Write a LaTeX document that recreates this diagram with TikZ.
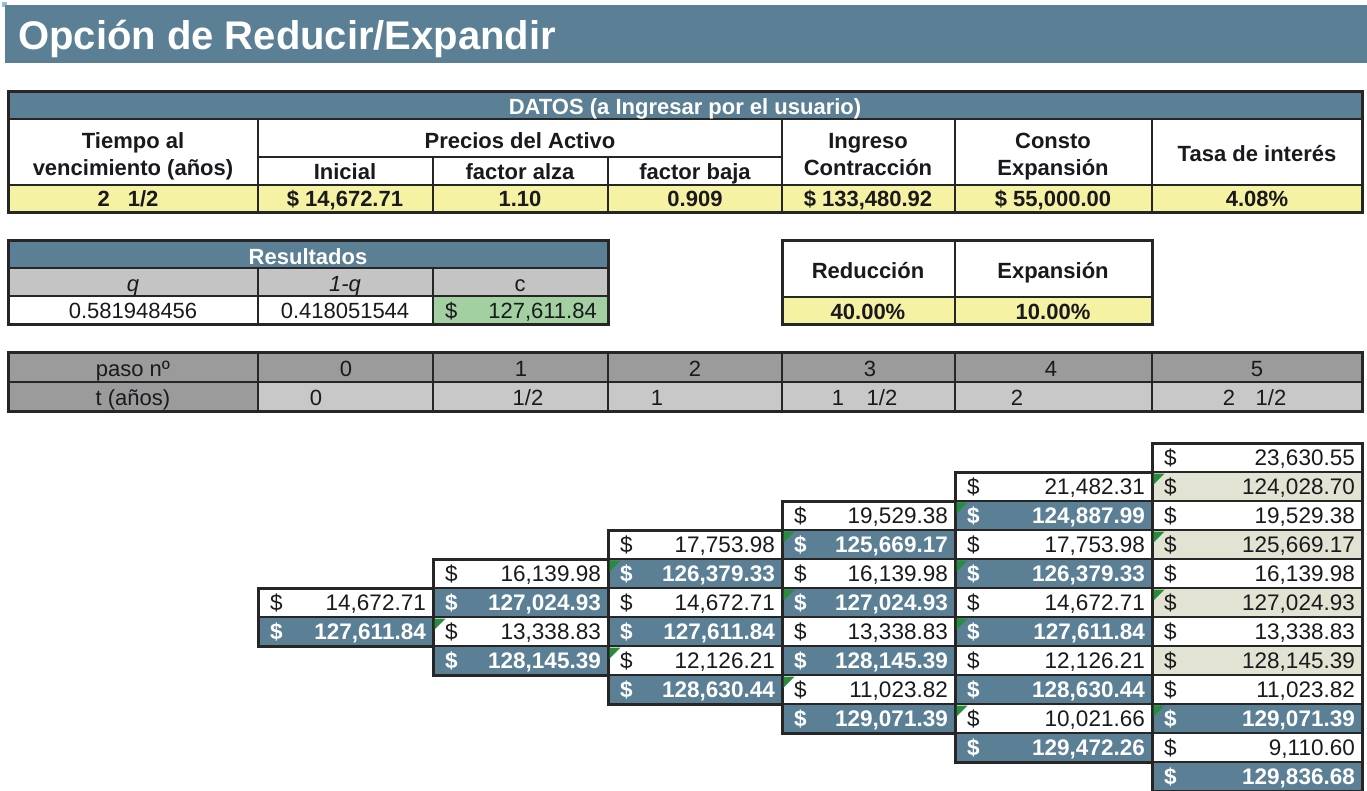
\documentclass[tikz,border=0pt]{standalone}
\usepackage{fontspec}
\setmainfont{Liberation Sans}
\definecolor{sblue}{RGB}{91,127,148}
\definecolor{ylw}{RGB}{246,242,164}
\definecolor{grn}{RGB}{163,208,160}
\definecolor{dgray}{RGB}{155,155,155}
\definecolor{lgray}{RGB}{200,200,200}
\definecolor{qgray}{RGB}{196,196,196}
\definecolor{beige}{RGB}{226,227,210}
\definecolor{bord}{RGB}{38,38,38}
\definecolor{txt}{RGB}{25,25,30}
\definecolor{tri}{RGB}{40,140,60}
\definecolor{ltblue}{RGB}{150,190,225}
\newcommand\lc[6]{% name, left, right, row, kind, value
  \fill[#5fill] (#2,{443+29*#4}) rectangle (#3,{472+29*#4});
  \draw[cellline] (#2,{443+29*#4}) rectangle (#3,{472+29*#4});
  \node[#5txt, anchor=base west] (#1d) at ({#2+12},{465.5+29*#4}) {\$};
  \node[#5txt, anchor=base east] (#1v) at ({#3-7},{465.5+29*#4}) {#6};
}
\newcommand\trimark[2]{% left, row
  \fill[tri] ({#1+1.5},{444.5+29*#2}) -- ++(11,0) -- ++(-11,11) -- cycle;
}
\begin{document}
\begin{tikzpicture}[x=1pt,y=-1pt,
  t/.style={inner sep=0pt, text=txt, font=\fontsize{22}{26}\selectfont, anchor=base},
  tb/.style={t, font=\fontsize{22}{26}\selectfont\bfseries},
  ti/.style={t, font=\fontsize{22}{26}\selectfont\itshape},
  tw/.style={tb, text=white},
  lt/.style={t, font=\fontsize{22.5}{26}\selectfont},
  lw/.style={tw, font=\fontsize{22.5}{26}\selectfont\bfseries},
  outer/.style={draw=bord, line width=3pt},
  inner/.style={draw=bord, line width=2pt},
  cellline/.style={draw=bord, line width=2.6pt},
  pfill/.style={fill=white}, bfill/.style={fill=sblue}, gfill/.style={fill=beige},
  ptxt/.style={lt}, btxt/.style={lw}, gtxt/.style={lt}]
\useasboundingbox (0,0) rectangle (1367,790);
\fill[white] (0,0) rectangle (1367,790);
% title
\fill[ltblue] (2,2) rectangle (7,7);
\fill[sblue] (5,5) rectangle (1367,63);
\node[tw, font=\fontsize{40}{48}\selectfont\bfseries, anchor=base west] (title) at (18,49) {Opción de Reducir/Expandir};
% DATOS table
\fill[sblue] (8,91) rectangle (1362,119);
\fill[white] (8,119) rectangle (1362,185);
\fill[ylw] (8,185) rectangle (1362,212);
\draw[inner] (8,119) -- (1362,119);
\draw[inner] (8,185) -- (1362,185);
\draw[inner] (258,157) -- (782,157);
\foreach \x in {258,782,955,1152} \draw[inner] (\x,119) -- (\x,212);
\foreach \x in {433,608} \draw[inner] (\x,157) -- (\x,212);
\draw[outer] (8,91) rectangle (1362,212);
\node[tw] (dh) at (685,114) {DATOS (a Ingresar por el usuario)};
\node[tb] (h1a) at (133,148) {Tiempo al};
\node[tb] (h1b) at (133,175) {vencimiento (años)};
\node[tb] (h2) at (520,148) {Precios del Activo};
\node[tb] (h2a) at (345,179) {Inicial};
\node[tb] (h2b) at (520,179) {factor alza};
\node[tb] (h2c) at (695,179) {factor baja};
\node[tb] (h3a) at (868,148) {Ingreso};
\node[tb] (h3b) at (868,175) {Contracción};
\node[tb] (h4a) at (1053,148) {Consto};
\node[tb] (h4b) at (1053,175) {Expansión};
\node[tb] (h5) at (1257,161) {Tasa de interés};
\node[tb] (v1) at (128,206) {2\hspace{18pt}1/2};
\node[tb] (v2) at (345,206) {\$ 14,672.71};
\node[tb] (v3) at (520,206) {1.10};
\node[tb] (v4) at (695,206) {0.909};
\node[tb] (v5) at (868,206) {\$ 133,480.92};
\node[tb] (v6) at (1053,206) {\$ 55,000.00};
\node[tb] (v7) at (1257,206) {4.08\%};
% Resultados
\fill[sblue] (8,240) rectangle (608,268);
\fill[qgray] (8,268) rectangle (608,296);
\fill[white] (8,296) rectangle (433,324);
\fill[grn] (433,296) rectangle (608,324);
\draw[inner] (8,268) -- (608,268);
\draw[inner] (8,296) -- (608,296);
\foreach \x in {258,433} \draw[inner] (\x,268) -- (\x,324);
\draw[outer] (8,240) rectangle (608,324);
\node[tw] (rh) at (308,264) {Resultados};
\node[ti] (rq) at (133,291) {q};
\node[ti] (rq1) at (345,291) {1-q};
\node[t] (rc) at (520,291) {c};
\node[t] (rqv) at (133,318) {0.581948456};
\node[t] (rq1v) at (345,318) {0.418051544};
\node[t, anchor=base west] (rcd) at (445,318) {\$};
\node[t, anchor=base east] (rcv) at (597,318) {127,611.84};
% Reduccion / Expansion
\fill[white] (782,240) rectangle (1152,297);
\fill[ylw] (782,297) rectangle (1152,324);
\draw[inner] (782,297) -- (1152,297);
\draw[inner] (955,240) -- (955,324);
\draw[outer] (782,240) rectangle (1152,324);
\node[tb] (red) at (868,278) {Reducción};
\node[tb] (exp) at (1053,278) {Expansión};
\node[tb] (redv) at (868,319) {40.00\%};
\node[tb] (expv) at (1053,319) {10.00\%};
% paso table
\fill[dgray] (8,352) rectangle (1362,382);
\fill[dgray] (8,382) rectangle (258,411);
\fill[lgray] (258,382) rectangle (1362,411);
\draw[inner] (8,382) -- (1362,382);
\foreach \x in {258,433,608,782,955,1152} \draw[inner] (\x,352) -- (\x,411);
\draw[outer] (8,352) rectangle (1362,411);
\node[t] (pl) at (133,376) {paso nº};
\node[t] (p0) at (346,376) {0};
\node[t] (p1) at (521,376) {1};
\node[t] (p2) at (695,376) {2};
\node[t] (p3) at (870,376) {3};
\node[t] (p4) at (1051,376) {4};
\node[t] (p5) at (1257,376) {5};
\node[t] (tl) at (133,405) {t (años)};
\node[t] (t0) at (316,405) {0};
\node[t] (t1) at (528,405) {1/2};
\node[t] (t2) at (657,405) {1};
\node[t] (t3a) at (838,405) {1};
\node[t] (t3b) at (882,405) {1/2};
\node[t] (t4) at (1017,405) {2};
\node[t] (t5a) at (1229,405) {2};
\node[t] (t5b) at (1271,405) {1/2};
% lattice column 0
\lc{a0}{258}{433}{5}{p}{14,672.71}
\lc{a1}{258}{433}{6}{b}{127,611.84}
\draw[outer] (258,588) rectangle (433,646);
% column 1
\lc{b0}{433}{608}{4}{p}{16,139.98}
\lc{b1}{433}{608}{5}{b}{127,024.93}
\lc{b2}{433}{608}{6}{p}{13,338.83}
\lc{b3}{433}{608}{7}{b}{128,145.39}
\draw[outer] (433,559) rectangle (608,675);
% column 2
\lc{c0}{608}{782}{3}{p}{17,753.98}
\lc{c1}{608}{782}{4}{b}{126,379.33}
\lc{c2}{608}{782}{5}{p}{14,672.71}
\lc{c3}{608}{782}{6}{b}{127,611.84}
\lc{c4}{608}{782}{7}{p}{12,126.21}
\lc{c5}{608}{782}{8}{b}{128,630.44}
\draw[outer] (608,530) rectangle (782,704);
% column 3
\lc{d0}{782}{955}{2}{p}{19,529.38}
\lc{d1}{782}{955}{3}{b}{125,669.17}
\lc{d2}{782}{955}{4}{p}{16,139.98}
\lc{d3}{782}{955}{5}{b}{127,024.93}
\lc{d4}{782}{955}{6}{p}{13,338.83}
\lc{d5}{782}{955}{7}{b}{128,145.39}
\lc{d6}{782}{955}{8}{p}{11,023.82}
\lc{d7}{782}{955}{9}{b}{129,071.39}
\draw[outer] (782,501) rectangle (955,733);
% column 4
\lc{e0}{955}{1152}{1}{p}{21,482.31}
\lc{e1}{955}{1152}{2}{b}{124,887.99}
\lc{e2}{955}{1152}{3}{p}{17,753.98}
\lc{e3}{955}{1152}{4}{b}{126,379.33}
\lc{e4}{955}{1152}{5}{p}{14,672.71}
\lc{e5}{955}{1152}{6}{b}{127,611.84}
\lc{e6}{955}{1152}{7}{p}{12,126.21}
\lc{e7}{955}{1152}{8}{b}{128,630.44}
\lc{e8}{955}{1152}{9}{p}{10,021.66}
\lc{e9}{955}{1152}{10}{b}{129,472.26}
\draw[outer] (955,472) rectangle (1152,762);
% column 5
\lc{f0}{1152}{1362}{0}{p}{23,630.55}
\lc{f1}{1152}{1362}{1}{g}{124,028.70}
\lc{f2}{1152}{1362}{2}{p}{19,529.38}
\lc{f3}{1152}{1362}{3}{g}{125,669.17}
\lc{f4}{1152}{1362}{4}{p}{16,139.98}
\lc{f5}{1152}{1362}{5}{g}{127,024.93}
\lc{f6}{1152}{1362}{6}{p}{13,338.83}
\lc{f7}{1152}{1362}{7}{g}{128,145.39}
\lc{f8}{1152}{1362}{8}{p}{11,023.82}
\lc{f9}{1152}{1362}{9}{b}{129,071.39}
\lc{f10}{1152}{1362}{10}{p}{9,110.60}
\lc{f11}{1152}{1362}{11}{b}{129,836.68}
\draw[outer] (1152,443) rectangle (1362,791);
% green markers
\trimark{1152}{1}\trimark{1152}{3}\trimark{1152}{5}\trimark{1152}{9}
\trimark{955}{2}\trimark{955}{4}\trimark{955}{6}\trimark{955}{9}
\trimark{782}{3}\trimark{782}{5}\trimark{782}{8}
\trimark{608}{4}\trimark{608}{7}
\trimark{433}{6}
\end{tikzpicture}
\end{document}
